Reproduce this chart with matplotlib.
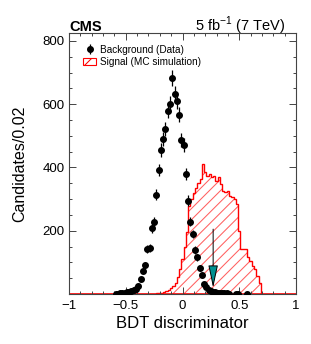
import matplotlib
matplotlib.use("Agg")
import matplotlib.pyplot as plt
import numpy as np
from matplotlib.patches import Patch
from matplotlib.ticker import MultipleLocator

plt.rcParams["font.family"] = ["Liberation Sans", "DejaVu Sans"]
plt.rcParams["hatch.linewidth"] = 0.75
plt.rcParams["axes.unicode_minus"] = True

# background (data): bin centres and candidates per 0.02 (empty bins not drawn)
bkg_x = [-0.59, -0.57, -0.55, -0.53, -0.51, -0.49, -0.47, -0.45, -0.43, -0.41,
         -0.39, -0.37, -0.35, -0.33, -0.31, -0.29, -0.27, -0.25, -0.23, -0.21,
         -0.19, -0.17, -0.15, -0.13, -0.11, -0.09, -0.07, -0.05, -0.03, -0.01,
         0.01, 0.03, 0.05, 0.07, 0.09, 0.11, 0.13, 0.15, 0.17, 0.19,
         0.21, 0.23, 0.25, 0.27, 0.29, 0.31, 0.33, 0.35, 0.37, 0.39,
         0.41, 0.47, 0.49, 0.57]
bkg_y = [1, 1, 2, 2, 3, 5, 7, 9, 13, 17,
         25, 47, 74, 93, 142, 146, 208, 228, 314, 392,
         455, 490, 521, 579, 602, 683, 632, 609, 567, 487,
         470, 379, 295, 229, 190, 139, 116, 82, 60, 32,
         21, 13, 8, 6, 5, 4, 3, 3, 2, 2,
         1, 1, 1, 1]

# signal (MC simulation): contents of 0.02 bins starting at sig_lo
sig_lo = -0.23
sig_width = 0.02
sig_y = [2, 3, 4, 6, 8, 12, 18, 26, 35, 55,
         80, 110, 150, 195, 279, 300, 320, 335, 350, 365,
         411, 385, 374, 380, 369, 374, 358, 369, 348, 327,
         321, 327, 311, 306, 300, 285, 200, 142, 142, 142,
         116, 105, 90, 79, 58, 35]

cut_x = 0.27
cut_top = 205
cut_tip = 20

x_ticks = [-1, -0.5, 0, 0.5, 1]
x_ticklabels = ["\u22121", "\u22120.5", "0", "0.5", "1"]
y_ticks = [0, 200, 400, 600, 800]
y_ticklabels = ["", "200", "400", "600", "800"]

fig = plt.figure(figsize=(3.11, 3.44), dpi=100)
ax = fig.add_axes([69 / 311, 50 / 344, 227 / 311, 261 / 344])

sig_edges = sig_lo + sig_width * np.arange(len(sig_y) + 1)
ax.stairs(sig_y, sig_edges, fill=True, facecolor="none", edgecolor="#ff6060",
          hatch="///", linewidth=0)
ax.stairs(sig_y, sig_edges, color="red", linewidth=1.0)
ax.axhline(0, color="red", linewidth=1.2, zorder=1)

bkg_err = np.sqrt(bkg_y)
eb = ax.errorbar(bkg_x, bkg_y, yerr=bkg_err, fmt="o", color="black",
                 markersize=4.0, elinewidth=0.9, capsize=0, zorder=3)

ax.annotate("", xy=(cut_x, cut_tip), xytext=(cut_x, cut_top),
            arrowprops=dict(arrowstyle="-|>,head_length=1.4,head_width=0.3",
                            ec="black", fc="#009090", lw=0.7,
                            shrinkA=0, shrinkB=0), zorder=4)

ax.set_xlim(-1, 1)
ax.set_ylim(0, 825)
ax.set_xticks(x_ticks)
ax.set_xticklabels(x_ticklabels)
ax.set_yticks(y_ticks)
ax.set_yticklabels(y_ticklabels)
ax.xaxis.set_minor_locator(MultipleLocator(0.1))
ax.yaxis.set_minor_locator(MultipleLocator(50))
ax.tick_params(which="both", direction="in", top=True, right=True,
               labelsize=9.5, width=0.7, color="#444444")
ax.tick_params(which="major", length=5)
ax.tick_params(which="minor", length=2.5)
ax.tick_params(axis="x", pad=4)
ax.tick_params(axis="y", pad=3)
for s in ax.spines.values():
    s.set_linewidth(0.8)
    s.set_color("#444444")

ax.set_xlabel("BDT discriminator", fontsize=12)
ax.xaxis.set_label_coords(0.5, -0.085)
ax.xaxis.label.set_va("top")
ax.set_ylabel("Candidates/0.02", fontsize=11.5)
ax.yaxis.set_label_coords(-0.185, 0.5)

sig_handle = Patch(facecolor="none", edgecolor="red", hatch="//", linewidth=0.8)
ax.legend([eb, sig_handle], ["Background (Data)", "Signal (MC simulation)"],
          loc="upper left", bbox_to_anchor=(0.062, 0.955), frameon=False,
          fontsize=7.2, handlelength=1.3, handletextpad=0.4, borderpad=0,
          borderaxespad=0, labelspacing=0.25)

fig.text(69 / 311, 1 - 31 / 344, "CMS", fontsize=10.5, fontweight="bold",
         ha="left", va="baseline")
fig.text(286 / 311, 1 - 31 / 344, "5 fb$^{\\mathregular{-1}}$ (7 TeV)",
         fontsize=10.5, ha="right", va="baseline")

fig.savefig("out.png", dpi=100)
